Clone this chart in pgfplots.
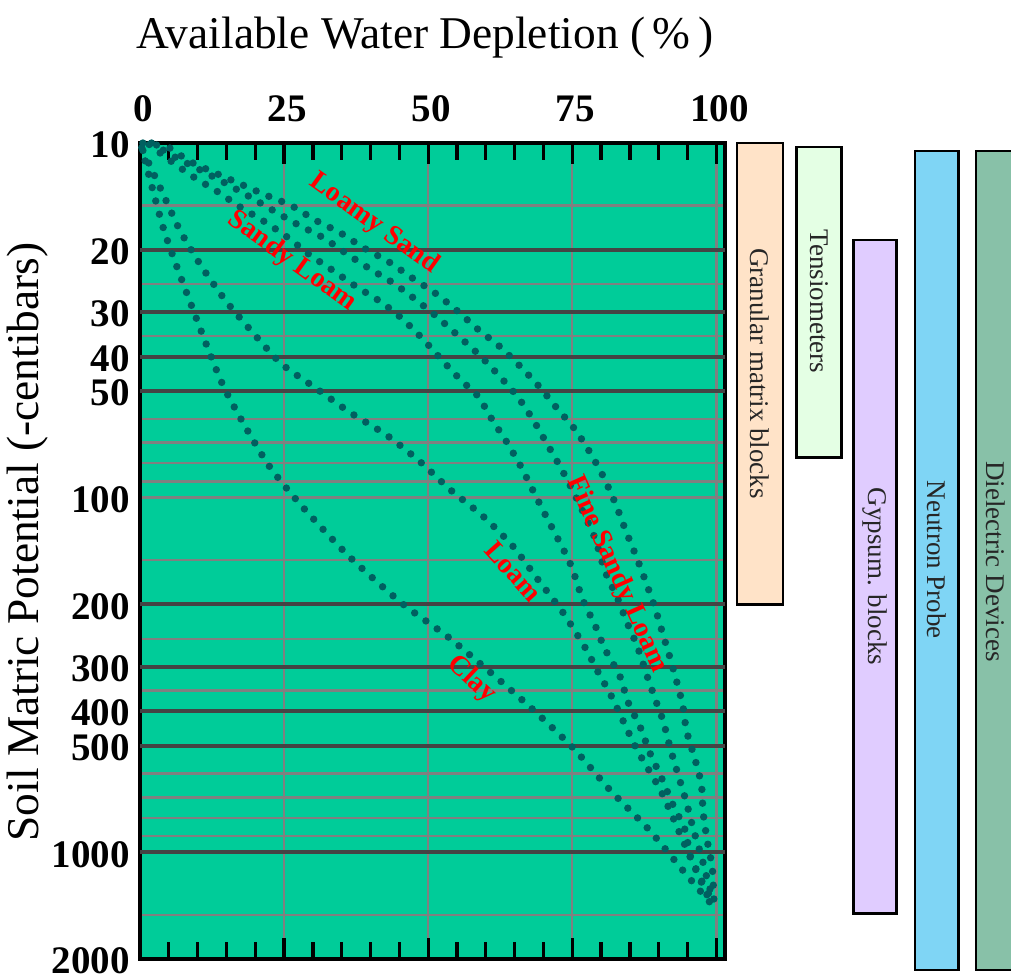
\documentclass[border=0pt]{standalone}
\usepackage{pgfplots}
\pgfplotsset{compat=1.18}
\usepackage{fontspec}
\setmainfont{Liberation Serif}
\definecolor{bgc}{RGB}{0,204,153}
\definecolor{dotc}{RGB}{0,96,96}
\definecolor{gridlight}{RGB}{128,128,128}
\definecolor{griddark}{RGB}{68,68,68}
\definecolor{granular}{RGB}{255,227,200}
\definecolor{tensio}{RGB}{228,255,228}
\definecolor{gypsum}{RGB}{224,204,255}
\definecolor{neutron}{RGB}{127,213,245}
\definecolor{dielec}{RGB}{136,193,168}
\tikzset{
  redlab/.style={font=\bfseries\fontsize{14}{16}\selectfont, text=red, inner sep=0pt},
  barlab/.style={font=\fontsize{13.5}{15}\selectfont, text=black!85, rotate=-90, inner sep=0pt},
  curve/.style={draw=dotc, line width=3.7pt, line cap=round, dash pattern=on 0pt off 6.9pt},
  bar/.style={draw=black, line width=1.2pt},
}
\begin{document}
\begin{tikzpicture}
\begin{axis}[
  at={(0,0)}, anchor=south west,
  scale only axis, width=292.5pt, height=408pt,
  xmin=0, xmax=101.5, ymin=10, ymax=2000,
  ymode=log, y dir=reverse,
  clip=false,
  axis background/.style={fill=bgc},
  axis line style={black, line width=1.8pt},
  /pgf/number format/assume math mode=true,
  xtick={0,25,50,75,100}, xticklabels={0,25,50,75,100},
  minor x tick num=4,
  xtick pos=both, xticklabel pos=upper,
  tick align=inside,
  major tick length=10.5pt, minor tick length=8.5pt,
  xtick style={black, line width=1.6pt},
  ytick style={draw=none},
  ytick={10,15,20,25,30,35,40,50,60,70,80,90,100,150,200,250,300,350,400,500,600,700,800,900,1000,1500,2000},
  yticklabels={10,,20,,30,,40,50,,,,,100,,200,,300,,400,500,,,,,1000,,2000},
  xticklabel style={font=\bfseries\fontsize{19.5}{20}\selectfont, anchor=base, inner sep=0pt, yshift=10.5pt, xshift=1.5pt},
  yticklabel style={font=\bfseries\fontsize{19.5}{20}\selectfont, anchor=east, inner sep=0pt, xshift=-5pt, yshift=-1pt},
  xmajorgrids, ymajorgrids,
  major grid style={draw=gridlight, line width=1.2pt},
  title={Available Water Depletion (\,\%\,)},
  title style={font=\fontsize{22.7}{24}\selectfont, at={(axis description cs:0.487,1.101)}, anchor=base},
  ylabel={Soil Matric Potential (-centibars)},
  ylabel style={font=\fontsize{22.7}{24}\selectfont, at={(axis description cs:-0.193,0.511)}, anchor=center},
]
% dark horizontal grid lines
\pgfplotsinvokeforeach{20,30,40,50,200,300,400,500,1000}{
  \addplot[griddark, line width=2pt] coordinates {(0,#1) (101.5,#1)};
}
% Clay
\addplot[curve, smooth, tension=0.4] coordinates {(0.3,10.3) (4.2,17.7) (9.2,29.5) (14.6,49.0) (21.9,79.2) (28.0,105.3) (36.3,146.6) (45.5,199) (53.3,246) (60.8,311) (68.1,395) (75.2,509) (81.6,669) (88.4,867) (94.6,1146) (99.3,1410)};
% Loam
\addplot[curve, smooth, tension=0.4] coordinates {(0.5,10.5) (3.8,13.7) (6.9,17.6) (10.6,22.2) (14.9,27.9) (19.6,34.3) (24.5,41.9) (30.4,49.0) (36.5,57.6) (42.7,66.5) (48.4,78.7) (53.8,94.9) (59.4,112.4) (64.6,136.5) (68.9,169) (73.4,211) (77.3,266) (79.5,311) (81.9,366) (86.1,509) (90.5,678) (94.4,943) (98.4,1321)};
% c3
\addplot[curve, smooth, tension=0.4] coordinates {(1.6,10.1) (5.2,11.2) (9.4,12.5) (13.4,13.7) (17.5,15.2) (21.7,16.7) (25.7,18.5) (29.5,20.7) (33.5,22.9) (37.5,25.4) (41.7,28.0) (45.3,31.1) (49.0,35.6) (52.3,40.8) (55.6,46.5) (58.7,51.9) (61.1,60.3) (63.7,70.0) (66.1,81.8) (68.1,94.9) (70.1,110) (74.6,152.8) (76.8,193.8) (78.9,228) (80.7,268) (83.2,317) (84.7,378) (86.8,444) (88.5,526) (90.6,623) (92.5,737) (94.6,867) (95.5,1026) (97.6,1216) (98.8,1321)};
% c4
\addplot[curve, smooth, tension=0.4] coordinates {(2,10) (6.25,11.0) (10.4,11.9) (14.9,13.0) (19.1,14.2) (23.4,15.6) (27.4,17.0) (31.8,18.5) (35.8,20.5) (39.8,22.6) (43.9,24.8) (47.9,27.7) (51.7,31.1) (55.4,35.2) (59.0,39.8) (62.3,45.3) (65.5,51.9) (68.2,60.3) (70.5,70.0) (72.9,81.8) (75.0,94.9) (76.9,110) (79.0,131) (80.7,161.6) (82.8,191.4) (84.5,225) (86.3,263) (88.0,319) (89.6,378) (90.8,428) (92.0,509) (93.4,607) (94.8,723) (96.0,861) (97.4,1026) (98.6,1223) (99.3,1330)};
% c5
\addplot[curve, smooth, tension=0.4] coordinates {(0.5,10) (5.0,10.3) (8.3,11.2) (12.8,12.1) (17.2,13.0) (21.7,14.0) (26.2,15.0) (30.4,16.5) (34.7,17.9) (38.9,19.8) (43.1,21.6) (47.2,24.0) (51.2,26.5) (55.0,29.7) (58.7,33.6) (62.5,37.6) (66.0,42.7) (69.3,48.7) (72.4,56.1) (75.5,64.3) (78.1,74.7) (80.4,87.3) (82.5,104) (84.2,123) (86.1,146.6) (87.8,173.5) (89.4,205.6) (90.8,245) (92.2,291.7) (94.1,380) (94.8,453) (96.2,540) (97.4,643) (97.7,771) (98.4,925) (99.3,1109) (99.6,1400)};
% curve labels
\node[redlab, rotate=-35.7] at (axis cs:40.6,16.9) {Loamy Sand};
\node[redlab, rotate=-35.8] at (axis cs:26.4,21.6) {Sandy Loam};
\node[redlab, rotate=-65.8] at (axis cs:82.7,164.8) {Fine Sandy Loam};
\node[redlab, rotate=-48] at (axis cs:64.8,161.6) {Loam};
\node[redlab, rotate=-43] at (axis cs:57.5,325.6) {Clay};
% device range bars
\addplot[bar, fill=granular] coordinates {(103.6,10) (111.6,10) (111.6,200) (103.6,200)} -- cycle;
\addplot[bar, fill=tensio] coordinates {(113.9,10.26) (121.7,10.26) (121.7,77) (113.9,77)} -- cycle;
\addplot[bar, fill=gypsum] coordinates {(123.8,18.8) (131.25,18.8) (131.25,1490) (123.8,1490)} -- cycle;
\addplot[bar, fill=neutron] coordinates {(134.5,10.53) (142.0,10.53) (142.0,2146) (134.5,2146)} -- cycle;
\addplot[bar, fill=dielec] coordinates {(145.0,10.53) (152.4,10.53) (152.4,2146) (145.0,2146)} -- cycle;
\node[barlab] at (axis cs:107.6,44.7) {Granular matrix blocks};
\node[barlab] at (axis cs:117.8,28.0) {Tensiometers};
\node[barlab] at (axis cs:127.5,167) {Gypsum. blocks};
\node[barlab] at (axis cs:138.3,149.6) {Neutron Probe};
\node[barlab] at (axis cs:148.4,151.4) {Dielectric Devices};
\end{axis}
\pgfresetboundingbox
\useasboundingbox (-70pt,-9pt) rectangle (435.5pt,479.5pt);
\end{tikzpicture}
\end{document}
